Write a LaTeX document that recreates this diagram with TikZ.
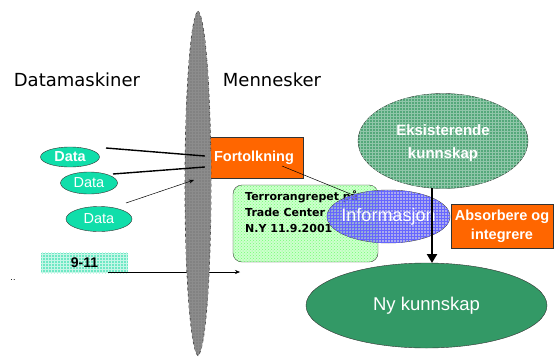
\documentclass[tikz,border=0pt]{standalone}
\usepackage{fontspec}
\setmainfont{Liberation Sans}
\newfontfamily\handfont{DejaVu Sans}
\usetikzlibrary{shapes.geometric,patterns,arrows.meta}
\definecolor{dataturq}{RGB}{16,222,170}
\definecolor{gridturq}{RGB}{110,232,196}
\definecolor{orangebox}{RGB}{255,102,0}
\definecolor{oldgreen}{RGB}{84,168,122}
\definecolor{newgreen}{RGB}{51,153,102}
\definecolor{infoblue}{RGB}{135,135,230}
\definecolor{notegreen}{RGB}{205,255,205}
\definecolor{spindlegray}{RGB}{130,130,130}
\tikzset{
  dataell/.style={ellipse,draw=black!80,fill=dataturq,text=white,inner sep=0pt,
    font=\fontsize{14.5}{14.5}\selectfont},
  orangebox/.style={rectangle,draw=black!80,fill=orangebox,text=white,
    font=\bfseries\fontsize{14.5}{16}\selectfont,align=center,inner sep=0pt},
  heading/.style={font=\handfont\fontsize{18}{18}\selectfont,inner sep=0pt},
  link/.style={draw=black,line width=1.4pt},
  thinlink/.style={draw=black,line width=0.5pt},
}
\begin{document}
\begin{tikzpicture}[x=1pt,y=-1pt]
\useasboundingbox (0,0) rectangle (559,356);

% side headings
\node[heading] (dm) at (77,80) {Datamaskiner};
\node[heading] (mn) at (272,80) {Mennesker};

% data sources
\node[dataell,minimum width=59pt,minimum height=20pt,font=\bfseries\fontsize{14.5}{14.5}\selectfont] (d1) at (70,157) {Data};
\node[dataell,minimum width=57pt,minimum height=22pt] (d2) at (89,183) {Data};
\node[dataell,minimum width=66pt,minimum height=25pt] (d3) at (99,219) {Data};

% 9-11 label box
\node[rectangle,fill=gridturq,minimum width=87pt,minimum height=20pt,inner sep=0pt] (nine) at (84.5,263) {};
\fill[pattern=grid,pattern color=white!60!gridturq] (nine.north west) rectangle (nine.south east);
\node[font=\bfseries\fontsize{14}{14}\selectfont] at (nine.center) {9-11};
\node[font=\fontsize{9}{9}\selectfont,inner sep=0pt] (dots) at (13,280) {..};

% interpretation box
\node[orangebox,minimum width=98pt,minimum height=41pt] (fort) at (254,157.5) {Fortolkning};

% arrow under the spindle towards the human side
\coordinate (n1) at (108,272);
\coordinate (n2) at (240,272);
\draw[thinlink,-{Stealth[length=5pt,width=4pt]}] (n1) -- (n2);

% the spindle separating the two sides
\path[fill=spindlegray,draw=black!70,dashed,line width=0.8pt]
  (198,11) .. controls (206,18) and (211,100) .. (211,184)
  .. controls (211,270) and (206,348) .. (198,356)
  .. controls (190,348) and (185,270) .. (185,184)
  .. controls (185,100) and (190,18) .. (198,11) -- cycle;
\path[pattern=grid,pattern color=black!45]
  (198,11) .. controls (206,18) and (211,100) .. (211,184)
  .. controls (211,270) and (206,348) .. (198,356)
  .. controls (190,348) and (185,270) .. (185,184)
  .. controls (185,100) and (190,18) .. (198,11) -- cycle;

% data flowing into interpretation
\coordinate (a1) at (106,148);
\coordinate (a2) at (113,174);
\coordinate (a3) at (126,203);
\coordinate (b3) at (194,180);
\draw[link] (a1) -- (fort.west |- 0,156);
\draw[link] (a2) -- (fort.west |- 0,167);
\draw[thinlink,-{Stealth[length=5pt,width=4pt]}] (a3) -- (b3);

% note on the event
\node[rectangle,rounded corners=9pt,draw=black!80,fill=notegreen,minimum width=145pt,minimum height=77pt,inner sep=0pt] (note) at (305.5,223.5) {};
\path[rounded corners=9pt,pattern=crosshatch dots,pattern color=green!55!white] (note.north west) rectangle (note.south east);
\node[anchor=north west,align=left,font=\handfont\bfseries\fontsize{11}{16}\selectfont,inner sep=0pt] (notetxt) at (245,191) {Terrorangrepet på\\Trade Center\\N.Y 11.9.2001};

% information
\node[ellipse,draw=black!80,fill=infoblue,fill opacity=0.7,minimum width=123pt,minimum height=53pt,inner sep=0pt] (info) at (388.5,216.5) {};
\path[pattern=grid,pattern color=blue!60!white] (info.center) ellipse (61.5pt and 26.5pt);
\node[text=white,font=\fontsize{18}{18}\selectfont] at (info.center) {Informasjon};

% existing knowledge
\node[ellipse,draw=black!80,fill=oldgreen,minimum width=170pt,minimum height=95pt,inner sep=0pt] (eks) at (443,141) {};
\path[pattern=grid,pattern color=white!35!oldgreen] (eks.center) ellipse (85pt and 47.5pt);
\node[text=white,align=center,font=\bfseries\fontsize{15}{23}\selectfont] at (443,143) {Eksisterende\\kunnskap};

% link from interpretation to information
\coordinate (f1) at (282,166);
\coordinate (f2) at (353,195);
\draw[thinlink] (f1) -- (f2);

% new knowledge
\node[ellipse,draw=black!80,fill=newgreen,minimum width=241pt,minimum height=85pt,inner sep=0pt,text=white,font=\fontsize{18.5}{18.5}\selectfont] (ny) at (426.5,305.5) {Ny kunnskap};

% absorb and integrate
\node[orangebox,minimum width=102pt,minimum height=44pt,font=\bfseries\fontsize{14.5}{19}\selectfont] (abs) at (502,226) {Absorbere og\\integrere};

% existing knowledge feeding the new
\draw[draw=black,line width=2.5pt,-{Triangle[length=9pt,width=10pt]}] (432,188) -- (432,263);
\end{tikzpicture}
\end{document}
